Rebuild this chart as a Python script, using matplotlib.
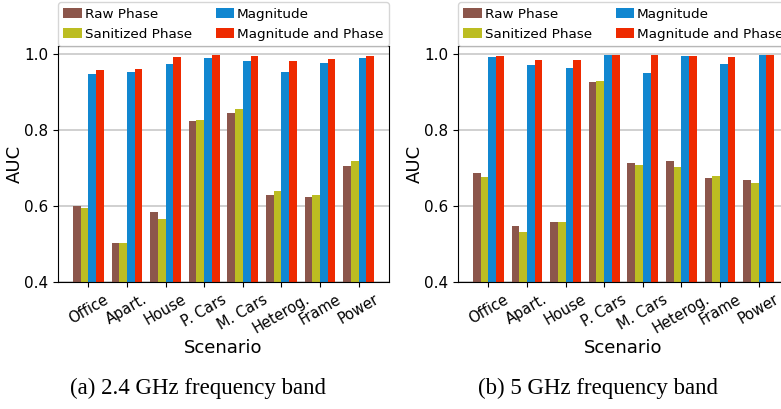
import matplotlib.pyplot as plt
import numpy as np

scenarios = ['Office', 'Apart.', 'House', 'P. Cars', 'M. Cars', 'Heterog.', 'Frame', 'Power']
series = ['Raw Phase', 'Sanitized Phase', 'Magnitude', 'Magnitude and Phase']
colors = ['#8c564b', '#bcbd22', '#1187d0', '#ee2a00']

# 2.4 GHz band
raw_24 = [0.600, 0.502, 0.584, 0.824, 0.845, 0.629, 0.624, 0.705]
san_24 = [0.594, 0.502, 0.565, 0.827, 0.856, 0.639, 0.629, 0.719]
mag_24 = [0.948, 0.953, 0.974, 0.990, 0.982, 0.953, 0.977, 0.990]
both_24 = [0.959, 0.961, 0.993, 0.998, 0.995, 0.982, 0.988, 0.995]

# 5 GHz band
raw_5 = [0.687, 0.547, 0.558, 0.927, 0.713, 0.719, 0.674, 0.668]
san_5 = [0.676, 0.531, 0.558, 0.930, 0.708, 0.703, 0.679, 0.660]
mag_5 = [0.993, 0.972, 0.964, 0.999, 0.951, 0.996, 0.975, 0.999]
both_5 = [0.995, 0.985, 0.985, 0.999, 0.999, 0.996, 0.993, 0.999]

fig = plt.figure(figsize=(7.81, 4.09), dpi=100)
W, H = 781.0, 409.0


def draw_panel(ax, values):
    x = np.arange(len(scenarios))
    width = 0.2
    for i, (vals, name, col) in enumerate(zip(values, series, colors)):
        ax.bar(x + (i - 1.5) * width, vals, width, color=col, label=name)
    ax.set_ylim(0.4, 1.022)
    ax.set_yticks([0.4, 0.6, 0.8, 1.0])
    ax.set_xticks(x)
    ax.set_xticklabels(scenarios, rotation=30, fontsize=10.5)
    ax.tick_params(axis='y', labelsize=11)
    ax.yaxis.grid(True, color='#c8c8c8', linewidth=1.2)
    ax.set_axisbelow(True)
    ax.set_ylabel('AUC', fontsize=13, labelpad=0)
    ax.set_xlabel('Scenario', fontsize=13, labelpad=2)
    ax.legend(ncol=2, loc='lower left', bbox_to_anchor=(0, 1.0, 1, 0.18),
              mode='expand', borderaxespad=0, fontsize=9.7,
              handlelength=1.4, handletextpad=0.2)


ax1 = fig.add_axes([58 / W, (H - 282) / H, 331 / W, 236 / H])
draw_panel(ax1, [raw_24, san_24, mag_24, both_24])

ax2 = fig.add_axes([458 / W, (H - 282) / H, 331 / W, 236 / H])
draw_panel(ax2, [raw_5, san_5, mag_5, both_5])

fig.text(198 / W, 1 - 388 / H, '(a) 2.4 GHz frequency band', ha='center', va='center',
         fontsize=16.5, family='Liberation Serif')
fig.text(598 / W, 1 - 388 / H, '(b) 5 GHz frequency band', ha='center', va='center',
         fontsize=16.5, family='Liberation Serif')

plt.savefig('out.png', dpi=100)
